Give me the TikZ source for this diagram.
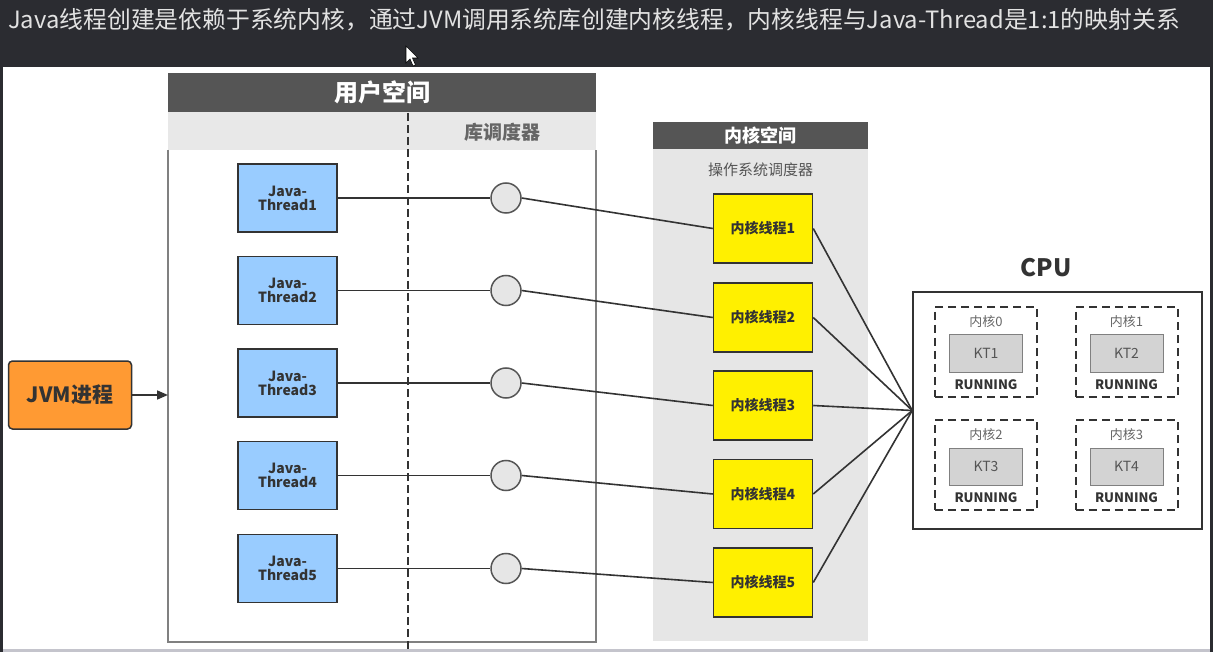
\documentclass[tikz,border=0pt]{standalone}
\usepackage{fontspec}
\setmainfont{Noto Sans CJK SC}
\usetikzlibrary{arrows.meta}
\definecolor{bgdark}{HTML}{2B2C31}
\definecolor{titlegray}{HTML}{E2E2E2}
\definecolor{stripgray}{HTML}{C4C4CC}
\definecolor{hdr}{HTML}{555555}
\definecolor{subhdr}{HTML}{E8E8E8}
\definecolor{kbody}{HTML}{E6E6E6}
\definecolor{jblue}{HTML}{99CCFF}
\definecolor{kyellow}{HTML}{FFF000}
\definecolor{jorange}{HTML}{FF9A33}
\definecolor{darktxt}{HTML}{333333}
\definecolor{midtxt}{HTML}{666666}
\definecolor{ktgray}{HTML}{D3D3D3}
\newcommand\myfs[1]{\fontsize{#1}{#1}\selectfont}
\tikzset{
  jthread/.style={draw=darktxt, line width=1.5pt, fill=jblue, minimum width=99pt, minimum height=68pt, inner sep=0pt, align=center, text=darktxt, font=\myfs{14}\bfseries},
  libcirc/.style={circle, draw=hdr, line width=1.5pt, fill=kbody, minimum size=30pt, inner sep=0pt},
  kthread/.style={draw=darktxt, line width=1.5pt, fill=kyellow, minimum width=99pt, minimum height=69pt, inner sep=0pt, text=darktxt, font=\myfs{14}\bfseries},
  conn/.style={draw=darktxt, line width=1.6pt},
  corebox/.style={draw=darktxt, line width=2pt, dash pattern=on 8pt off 5pt, minimum width=102pt, minimum height=90pt, inner sep=0pt},
  ktbox/.style={draw=gray, line width=1pt, fill=ktgray, minimum width=73pt, minimum height=37pt, inner sep=0pt, text=hdr, font=\myfs{14}},
  corelbl/.style={text=midtxt, font=\myfs{13}, inner sep=0pt},
  runlbl/.style={text=darktxt, font=\myfs{13}\bfseries, inner sep=0pt}
}
\begin{document}
\begin{tikzpicture}[x=1pt,y=-1pt]
\useasboundingbox (0,0) rectangle (1213,652);
\fill[bgdark] (0,0) rectangle (1213,652);
\fill[white] (3,67) rectangle (1210,649);
\fill[stripgray] (3,649) rectangle (1210,652);
% title
\node[anchor=west, text=titlegray, font=\myfs{23.8}, inner sep=0pt] (title) at (8,20) {Java线程创建是依赖于系统内核，通过JVM调用系统库创建内核线程，内核线程与Java-Thread是1:1的映射关系};
% cursor
\filldraw[fill=white, draw=black, line width=0.6pt] (406,46) -- (406,63) -- (410,59) -- (413,66) -- (415.5,65) -- (412.5,58) -- (418,58) -- cycle;
% user space
\fill[subhdr] (168,112) rectangle (596,150);
\node[fill=hdr, minimum width=428pt, minimum height=39pt, inner sep=0pt, anchor=north west, text=white, font=\myfs{24}\bfseries] (uhdr) at (168,73) {用户空间};
\node[text=midtxt, font=\myfs{19}\bfseries, inner sep=0pt] (libsched) at (502,132) {库调度器};
\draw[gray, line width=1.5pt] (168,150) -- (168,642) -- (596,642) -- (596,150);
\draw[darktxt, line width=2.2pt, dash pattern=on 8pt off 4pt] (408,113) -- (408,650);
% kernel space
\fill[kbody] (653,149) rectangle (868,641);
\node[fill=hdr, minimum width=215pt, minimum height=27pt, inner sep=0pt, anchor=north west, text=white, font=\myfs{18}\bfseries] (khdr) at (653,122) {内核空间};
\node[text=hdr, font=\myfs{15}, inner sep=0pt] (ossched) at (760.5,170) {操作系统调度器};
% JVM
\node[draw=darktxt, line width=1.5pt, fill=jorange, rounded corners=4pt, minimum width=123pt, minimum height=68pt, inner sep=0pt, text=darktxt, font=\myfs{21}\bfseries] (jvm) at (70,395) {JVM进程};
\coordinate (uleft) at (168,395);
\draw[conn, -{Triangle[length=11pt,width=9pt]}] (jvm.east) -- (uleft);
% CPU
\node[text=darktxt, font=\myfs{24}\bfseries, inner sep=0pt] (cpulbl) at (1046,268) {CPU};
\node[draw=darktxt, line width=1.5pt, minimum width=289pt, minimum height=237pt, inner sep=0pt] (cpu) at (1057.5,410.5) {};
\foreach \i/\cx/\cy/\kt in {0/986/352/KT1, 1/1126.5/352/KT2, 2/986/465/KT3, 3/1126.5/465/KT4} {
  \node[corebox] (core\i) at (\cx,\cy) {};
  \node[corelbl] (corel\i) at (\cx,\cy-30) {内核\i};
  \node[ktbox] (ktb\i) at (\cx,\cy+1.5) {\kt};
  \node[runlbl] (run\i) at (\cx,\cy+33) {RUNNING};
}
% threads
\foreach \i/\jy/\ky in {1/198/228.5, 2/290.5/317.5, 3/383/405.5, 4/475.5/494, 5/568.5/582.5} {
  \node[jthread] (jt\i) at (287.5,\jy) {Java-\\Thread\i};
  \node[libcirc] (lc\i) at (506,\jy) {};
  \node[kthread] (kt\i) at (763,\ky) {内核线程\i};
  \draw[conn] (jt\i.east) -- (lc\i.west);
  \draw[conn] (lc\i.east) -- (kt\i.west);
  \draw[conn] (kt\i.east) -- (cpu.west);
}
\end{tikzpicture}
\end{document}
